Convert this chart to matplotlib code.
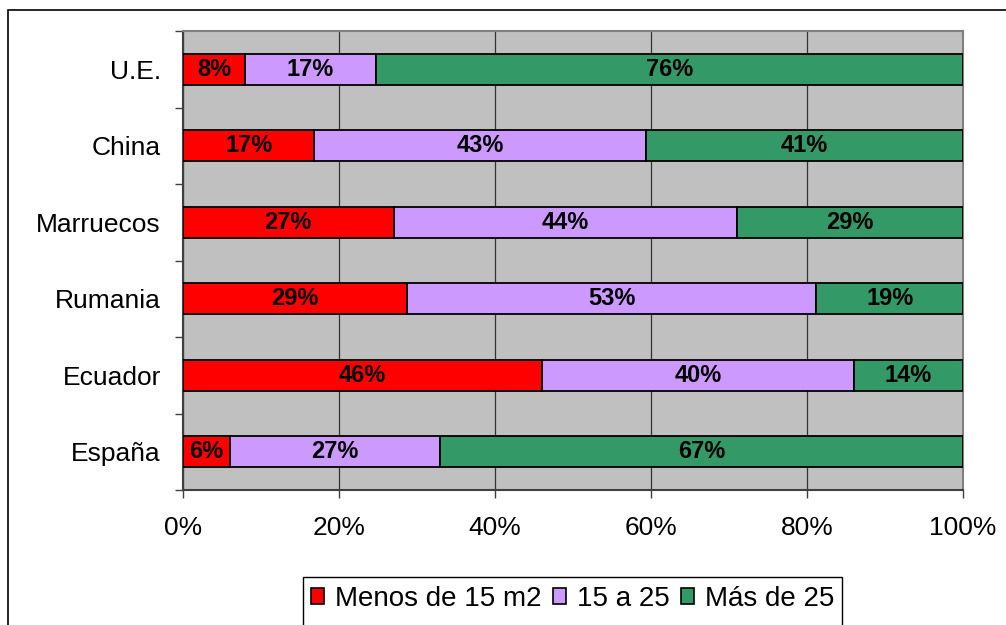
import numpy as np
import matplotlib
matplotlib.use("Agg")
import matplotlib.pyplot as plt
from matplotlib.patches import Rectangle
from matplotlib.ticker import FixedLocator, PercentFormatter

plt.rcParams['font.family'] = ['Liberation Sans', 'DejaVu Sans']

# datos (porcentajes mostrados en la figura)
categories = ["U.E.", "China", "Marruecos", "Rumania", "Ecuador", "España"]
menos_15 = [8, 17, 27, 29, 46, 6]
de_15_a_25 = [17, 43, 44, 53, 40, 27]
mas_25 = [76, 41, 29, 19, 14, 67]

series = [
    ("Menos de 15 m2", menos_15, "#FF0000"),
    ("15 a 25", de_15_a_25, "#CC99FF"),
    ("Más de 25", mas_25, "#339966"),
]

W, H = 1006, 625
fig = plt.figure(figsize=(W / 100, H / 100), dpi=100)
ax = fig.add_axes([183 / W, (H - 490) / H, 780 / W, 459 / H])
ax.set_facecolor("#C0C0C0")

# barras 100% apiladas: se normaliza cada fila
totals = np.array(menos_15) + np.array(de_15_a_25) + np.array(mas_25)
y = np.arange(len(categories))
left = np.zeros(len(categories))
for name, vals, color in series:
    width = np.array(vals) / totals * 100
    bars = ax.barh(y, width, left=left, height=0.41, color=color,
                   edgecolor="black", linewidth=1.3, label=name, zorder=3)
    ax.bar_label(bars, labels=[f"{v}%" for v in vals], label_type="center",
                 fontsize=17, fontweight="bold", color="black")
    left += width

ax.set_xlim(0, 100)
ax.set_ylim(len(categories) - 0.5, -0.5)
ax.set_xticks(np.arange(0, 101, 20))
ax.xaxis.set_major_formatter(PercentFormatter(decimals=0))
ax.tick_params(axis="x", direction="out", length=6, width=1, color="#404040",
               labelsize=19, pad=13)
ax.set_yticks(y)
ax.set_yticklabels(categories)
ax.yaxis.set_minor_locator(FixedLocator(np.arange(-0.5, len(categories), 1)))
ax.tick_params(axis="y", which="major", length=0, labelsize=19, pad=16)
ax.tick_params(axis="y", which="minor", direction="out", length=6, width=1,
               color="#404040")
ax.grid(axis="x", color="#333333", linewidth=0.9, zorder=1)
ax.set_axisbelow(True)

for side in ("left", "bottom"):
    ax.spines[side].set_color("#404040")
    ax.spines[side].set_linewidth(1.5)
for side in ("top", "right"):
    ax.spines[side].set_color("#808080")
    ax.spines[side].set_linewidth(1.5)

# borde del gráfico
fig.patches.append(Rectangle((8 / W, -0.1), 1.2, (H - 10) / H + 0.1,
                             transform=fig.transFigure, fill=False,
                             edgecolor="black", linewidth=1.2))

# leyenda
leg = fig.legend(loc="center", bbox_to_anchor=((303 + 842) / 2 / W, (H - 599) / H),
                 ncol=3, frameon=False, fontsize=20, handlelength=0.47,
                 handleheight=0.47, handletextpad=0.4, columnspacing=0.4)
for h in leg.legend_handles:
    h.set_linewidth(1.2)
fig.patches.append(Rectangle((303 / W, -0.1), (842 - 303) / W, (H - 577) / H + 0.1,
                             transform=fig.transFigure, fill=False,
                             edgecolor="black", linewidth=1.0))

fig.savefig("out.png", dpi=100)
